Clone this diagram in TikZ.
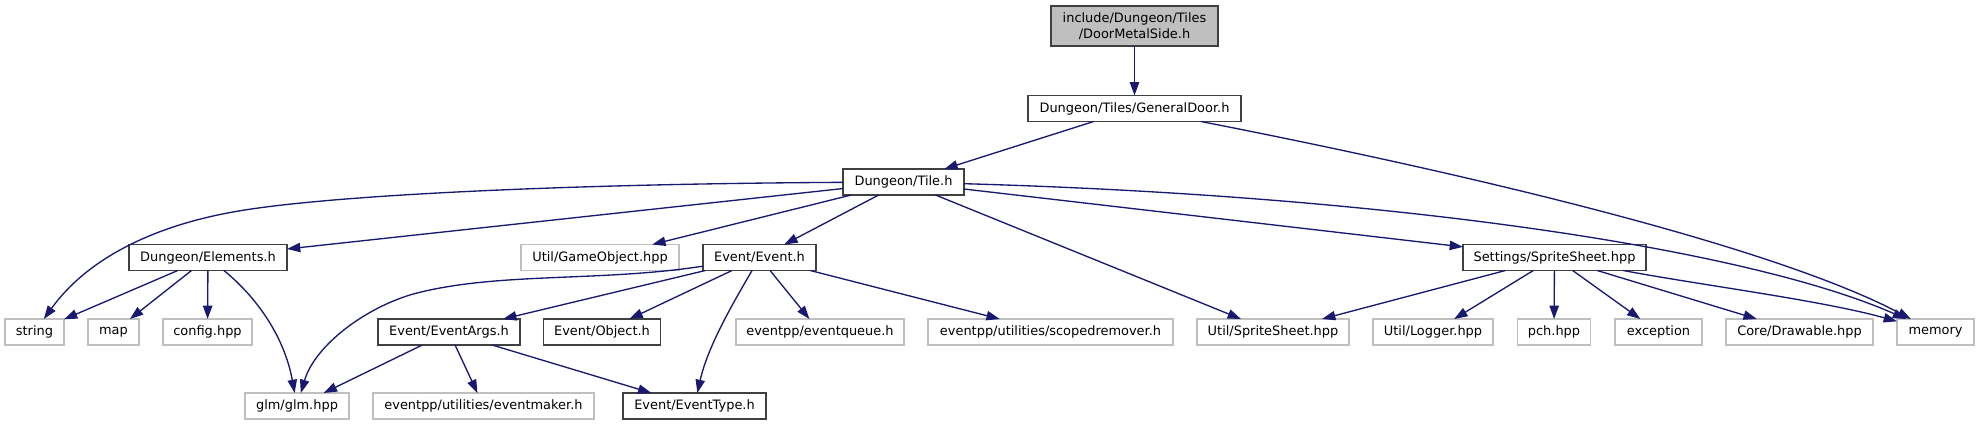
\documentclass[tikz,border=0pt]{standalone}
\usepackage{fontspec}
\setmainfont{DejaVu Sans}
\usetikzlibrary{arrows.meta}
\definecolor{midblue}{HTML}{191970}
\definecolor{darkb}{HTML}{404040}
\definecolor{lightb}{HTML}{BFBFBF}
\definecolor{rootfill}{HTML}{BFBFBF}
\begin{document}
\begin{tikzpicture}[x=0.75pt,y=-0.75pt,
  box/.style={rectangle, draw, line width=1pt, inner sep=0pt, outer sep=0pt,
    minimum height=26*0.75pt, font=\fontsize{9.7pt}{12pt}\selectfont, text=black, fill=white},
  doc/.style={box, draw=darkb},
  ext/.style={box, draw=lightb},
  bw/.style={minimum width=#1*0.75pt},
  dep/.style={draw=midblue, line width=1pt, -{Triangle[length=10pt,width=7pt]}}]
\fill[white] (0,0) rectangle (1980,425);
\useasboundingbox (0,0) rectangle (1980,425);

% row 0
\node[doc, fill=rootfill, bw=167, minimum height=40*0.75pt, align=center] (dms) at (1134.5,26)
  {include/Dungeon/Tiles\\/DoorMetalSide.h};
% row 1
\node[doc, bw=213] (gd) at (1134.5,108.5) {Dungeon/Tiles/GeneralDoor.h};
% row 2
\node[doc, bw=121] (tile) at (903.5,182) {Dungeon/Tile.h};
% row 3
\node[doc, bw=158] (elem) at (208,257.5) {Dungeon/Elements.h};
\node[ext, bw=158] (gobj) at (600,257.5) {Util/GameObject.hpp};
\node[doc, bw=113] (event) at (759.5,257.5) {Event/Event.h};
\node[doc, bw=183] (sett) at (1554.5,257.5) {Settings/SpriteSheet.hpp};
% row 4
\node[ext, bw=59] (string) at (34.5,332) {string};
\node[ext, bw=51] (map) at (113.5,332) {map};
\node[ext, bw=89] (config) at (207.5,332) {config.hpp};
\node[doc, bw=142] (eargs) at (449,332) {Event/EventArgs.h};
\node[doc, bw=117.5] (obj) at (602,332) {Event/Object.h};
\node[ext, bw=168] (equeue) at (820,332) {eventpp/eventqueue.h};
\node[ext, bw=245] (scoped) at (1050.5,332) {eventpp/utilities/scopedremover.h};
\node[ext, bw=152] (usprite) at (1273,332) {Util/SpriteSheet.hpp};
\node[ext, bw=120] (logger) at (1433,332) {Util/Logger.hpp};
\node[ext, bw=73] (pch) at (1554,332) {pch.hpp};
\node[ext, bw=87] (exc) at (1658.5,332) {exception};
\node[ext, bw=147] (draw) at (1799.5,332) {Core/Drawable.hpp};
\node[ext, bw=77] (memory) at (1935.5,332) {memory};
% row 5
\node[ext, bw=104] (glm) at (297,406) {glm/glm.hpp};
\node[ext, bw=221] (emaker) at (483.5,406) {eventpp/utilities/eventmaker.h};
\node[doc, bw=143] (etype) at (694.5,406) {Event/EventType.h};

% edges
\draw[dep] (dms) -- (gd);
\draw[dep] (gd) -- (tile);
\draw[dep] (gd) .. controls (1500,180) and (1780,250) .. (memory);

\draw[dep] (tile) .. controls (550,184) and (320,196) .. (233,212)
  .. controls (160,225) and (90,255) .. (string);
\draw[dep] (tile) -- (elem);
\draw[dep] (tile) -- (gobj);
\draw[dep] (tile) -- (event);
\draw[dep] (tile) -- (usprite);
\draw[dep] (tile) -- (sett);
\draw[dep] (tile) .. controls (1400,196) and (1750,250) .. (memory);

\draw[dep] (elem) -- (string);
\draw[dep] (elem) -- (map);
\draw[dep] (elem) -- (config);
\draw[dep] (elem) .. controls (260,300) and (285,340) .. (glm);

\draw[dep] (event) .. controls (600,282) and (500,272) .. (417,293)
  .. controls (367,306) and (315,345) .. (glm);
\draw[dep] (event) -- (eargs);
\draw[dep] (event) -- (obj);
\draw[dep] (event) .. controls (735,300) and (708,345) .. (etype);
\draw[dep] (event) -- (equeue);
\draw[dep] (event) -- (scoped);

\draw[dep] (eargs) -- (glm);
\draw[dep] (eargs) -- (emaker);
\draw[dep] (eargs) -- (etype);

\draw[dep] (sett) -- (usprite);
\draw[dep] (sett) -- (logger);
\draw[dep] (sett) -- (pch);
\draw[dep] (sett) -- (exc);
\draw[dep] (sett) -- (draw);
\draw[dep] (sett) .. controls (1700,285) and (1820,300) .. (memory);
\end{tikzpicture}
\end{document}
